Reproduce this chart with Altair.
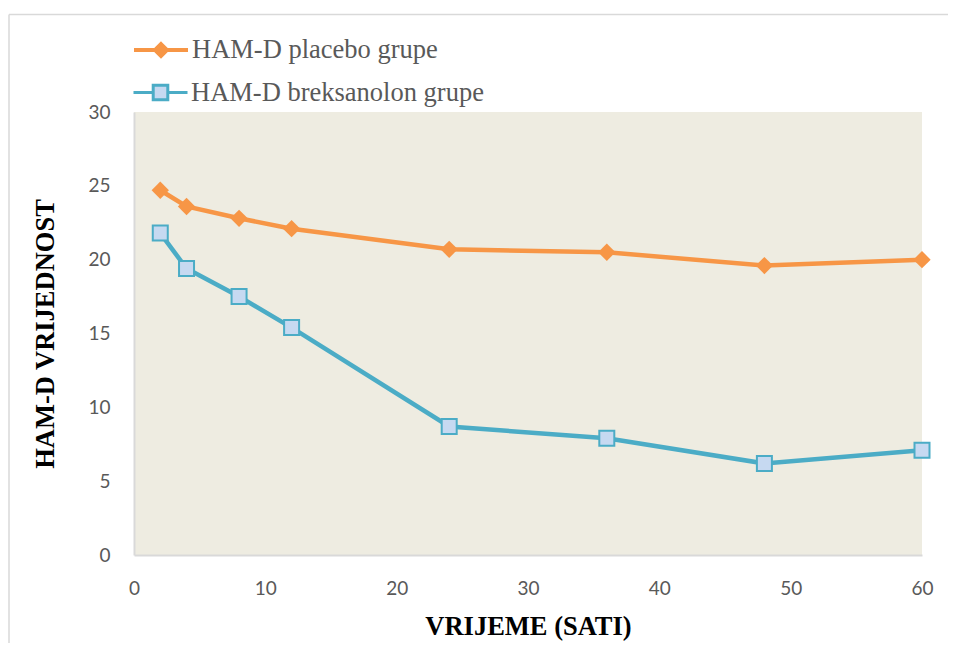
import altair as alt
import pandas as pd

hours = [2, 4, 8, 12, 24, 36, 48, 60]
placebo = [24.7, 23.6, 22.8, 22.1, 20.7, 20.5, 19.6, 20.0]
breksanolon = [21.8, 19.4, 17.5, 15.4, 8.7, 7.9, 6.2, 7.1]
series_names = ["HAM-D placebo grupe", "HAM-D breksanolon grupe"]
x_ticks = [0, 10, 20, 30, 40, 50, 60]
y_ticks = [0, 5, 10, 15, 20, 25, 30]

ORANGE = "#F79646"
BLUE = "#4BACC6"
BLUE_FILL = "#C6D9F1"
W, H = 788, 443

df_p = pd.DataFrame({"x": hours, "y": placebo, "s": series_names[0]})
df_b = pd.DataFrame({"x": hours, "y": breksanolon, "s": series_names[1]})

x_enc = alt.X("x:Q", scale=alt.Scale(domain=[0, 60], nice=False),
              axis=alt.Axis(values=x_ticks, title="VRIJEME (SATI)", labelPadding=24,
                            labelFlush=False, titleY=79, titleBaseline="alphabetic"))
y_enc = alt.Y("y:Q", scale=alt.Scale(domain=[0, 30], nice=False),
              axis=alt.Axis(values=y_ticks, title="HAM-D VRIJEDNOST", labelPadding=24,
                            titleX=-81, titleBaseline="alphabetic", titleAngle=-90))

legend_common = dict(orient="none", title=None, legendX=-2, padding=0, offset=0,
                     labelFont="Liberation Serif", labelFontSize=26.5, labelColor="#595959",
                     labelOffset=2, labelLimit=0, symbolSize=2916)

line_p = alt.Chart(df_p).mark_line(color=ORANGE, strokeWidth=4.5).encode(x=x_enc, y=y_enc)
pts_p = alt.Chart(df_p).mark_point(filled=True, shape="diamond", size=300, opacity=1).encode(
    x=x_enc, y=y_enc,
    color=alt.Color("s:N", scale=alt.Scale(domain=[series_names[0]], range=[ORANGE]),
                    legend=alt.Legend(legendY=-91,
                                      symbolType="M-1,0H1M0,-0.22L0.22,0L0,0.22L-0.22,0Z",
                                      symbolStrokeColor=ORANGE, symbolStrokeWidth=4,
                                      **legend_common)))

line_b = alt.Chart(df_b).mark_line(color=BLUE, strokeWidth=4.5).encode(x=x_enc, y=y_enc)
pts_b = alt.Chart(df_b).mark_point(filled=True, shape="square", size=225, opacity=1,
                                   stroke=BLUE, strokeWidth=2).encode(
    x=x_enc, y=y_enc,
    color=alt.Color("s:N", scale=alt.Scale(domain=[series_names[1]], range=[BLUE_FILL]),
                    legend=alt.Legend(legendY=-48,
                                      symbolType="M-1,0H-0.27M0.27,0H1M-0.27,-0.27H0.27V0.27H-0.27Z",
                                      symbolStrokeColor=BLUE, symbolStrokeWidth=3,
                                      **legend_common)))

frame_top = alt.Chart(pd.DataFrame({"a": [0]})).mark_rule(color="#D9D9D9", strokeWidth=1.5).encode(
    x=alt.value(-125), x2=alt.value(W + 26), y=alt.value(-97.5))
frame_left = alt.Chart(pd.DataFrame({"a": [0]})).mark_rule(color="#D9D9D9", strokeWidth=1.5).encode(
    x=alt.value(-125), y=alt.value(-97.5), y2=alt.value(H + 88))

chart = alt.layer(
    frame_top, frame_left,
    alt.layer(line_p, pts_p),
    alt.layer(line_b, pts_b),
).resolve_scale(color="independent").properties(
    width=W, height=H,
    autosize=alt.AutoSizeParams(type="none"),
    padding={"left": 126, "top": 104, "right": 26, "bottom": 88},
).configure_view(fill="#EEECE1", stroke=None).configure_axis(
    grid=False, ticks=False, domainColor="#D9D9D9", domainWidth=2,
    labelFont="Lato", labelFontSize=19, labelColor="#595959",
    titleFont="Liberation Serif", titleFontSize=26.5, titleFontWeight="bold", titleColor="#000000",
)

chart.save("out.html", embed_options={"renderer": "svg", "actions": False})
